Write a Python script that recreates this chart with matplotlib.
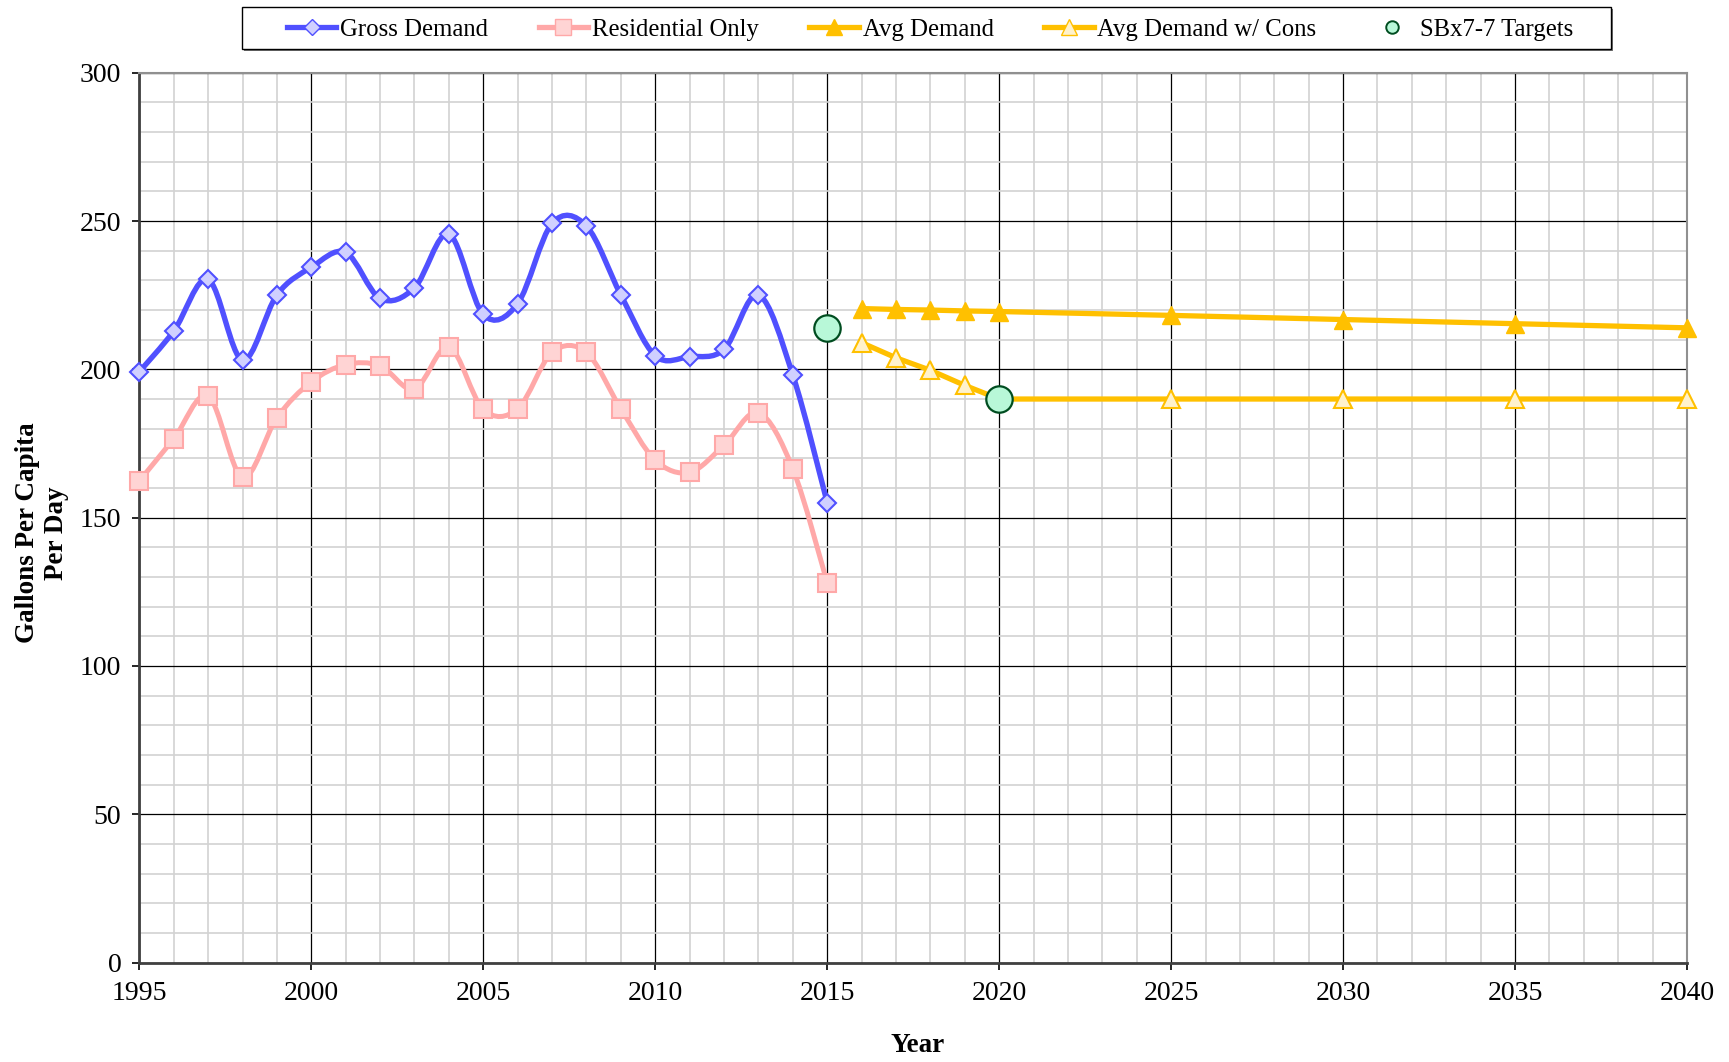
import matplotlib
matplotlib.use('Agg')
import matplotlib.pyplot as plt
from matplotlib.path import Path
from matplotlib.patches import PathPatch, Rectangle
from matplotlib.lines import Line2D
from matplotlib.ticker import MultipleLocator

hist_years = list(range(1995, 2016))
gross = [199.2, 212.9, 230.3, 203.1, 225.1, 234.4, 239.4, 223.9, 227.5, 245.6,
         218.5, 222.2, 249.2, 248.3, 225.1, 204.6, 204.3, 206.7, 225.1, 198.1, 155.1]
residential = [162.4, 176.6, 191.0, 163.6, 183.7, 195.8, 201.6, 201.2, 193.3, 207.6,
               186.5, 186.7, 205.7, 205.7, 186.7, 169.4, 165.3, 174.4, 185.4, 166.5, 128.1]

proj_years = [2016, 2017, 2018, 2019, 2020, 2025, 2030, 2035, 2040]
avg_demand = [220.5, 220.2, 220.0, 219.7, 219.5, 218.2, 216.8, 215.4, 214.0]
avg_cons = [209.0, 203.9, 199.7, 194.6, 190.0, 190.0, 190.0, 190.0, 190.0]

target_years = [2015, 2020]
targets = [214.0, 190.0]

plt.rcParams['font.family'] = ['Liberation Serif', 'DejaVu Serif']

BLUE = '#5050FF'
PINK = '#FFA8A8'
GOLD = '#FFC000'


def smooth_path(x, y):
    # excel style smoothed line (catmull-rom as bezier segments)
    verts = [(x[0], y[0])]
    codes = [Path.MOVETO]
    n = len(x)
    for i in range(n - 1):
        x0, y0 = (x[i - 1], y[i - 1]) if i > 0 else (x[i], y[i])
        x3, y3 = (x[i + 2], y[i + 2]) if i + 2 < n else (x[i + 1], y[i + 1])
        c1 = (x[i] + (x[i + 1] - x0) / 6, y[i] + (y[i + 1] - y0) / 6)
        c2 = (x[i + 1] - (x3 - x[i]) / 6, y[i + 1] - (y3 - y[i]) / 6)
        verts += [c1, c2, (x[i + 1], y[i + 1])]
        codes += [Path.CURVE4] * 3
    return Path(verts, codes)


fig = plt.figure(figsize=(17.29, 10.62), dpi=100)
ax = fig.add_axes([0.0806, 0.0936, 0.8951, 0.8379])

ax.add_patch(PathPatch(smooth_path(hist_years, residential), fill=False,
                       edgecolor=PINK, lw=3.6, zorder=3, capstyle='round', joinstyle='round'))
ax.plot(hist_years, residential, ls='none', marker='s', ms=13, mfc='#FFD4D4',
        mec=PINK, mew=1.5, zorder=4, clip_on=False)

ax.add_patch(PathPatch(smooth_path(hist_years, gross), fill=False,
                       edgecolor=BLUE, lw=3.9, zorder=5, capstyle='round', joinstyle='round'))
ax.plot(hist_years, gross, ls='none', marker='D', ms=9.3, mfc='#D0D0FF',
        mec=BLUE, mew=1.5, zorder=6, clip_on=False)

ax.plot(proj_years, avg_demand, color=GOLD, lw=3.8, marker='^', ms=13,
        mfc=GOLD, mec=GOLD, zorder=5, clip_on=False)
ax.plot(proj_years, avg_cons, color=GOLD, lw=3.8, marker='^', ms=13,
        mfc='#FFF2CC', mec=GOLD, mew=1.5, zorder=5, clip_on=False)

ax.plot(target_years, targets, ls='none', marker='o', ms=19, mfc='#B8F8D8',
        mec='#004D20', mew=1.6, zorder=7, clip_on=False)

ax.set_xlim(1995, 2040)
ax.set_ylim(0, 300)
ax.xaxis.set_major_locator(MultipleLocator(5))
ax.xaxis.set_minor_locator(MultipleLocator(1))
ax.yaxis.set_major_locator(MultipleLocator(50))
ax.yaxis.set_minor_locator(MultipleLocator(10))
ax.grid(which='minor', color='#D2D2D2', lw=1.2, zorder=0)
ax.grid(which='major', color='black', lw=0.9, zorder=1)
ax.set_axisbelow(True)
ax.tick_params(which='major', direction='out', length=5, width=1.2,
               labelsize=20, pad=8)
ax.tick_params(which='minor', length=0)
for s in ['left', 'bottom']:
    ax.spines[s].set_color('#404040')
    ax.spines[s].set_linewidth(2)
for s in ['top', 'right']:
    ax.spines[s].set_color('#909090')
    ax.spines[s].set_linewidth(1.5)

fig.text(0.0245, 0.498, 'Gallons Per Capita\nPer Day', rotation=90, ha='center',
         va='center', multialignment='center', fontsize=19.5, fontweight='bold')
fig.text(0.531, 0.016, 'Year', ha='center', va='center', fontsize=19.5,
         fontweight='bold')

# legend frame drawn by hand (wide side padding)
fig.patches.append(Rectangle((243.5 / 1729, 1 - 50.5 / 1062), 1369.5 / 1729, 42 / 1062,
                             transform=fig.transFigure, facecolor='0.45',
                             edgecolor='none', zorder=0))
fig.patches.append(Rectangle((241.5 / 1729, 1 - 48.5 / 1062), 1369.5 / 1729, 42 / 1062,
                             transform=fig.transFigure, facecolor='white',
                             edgecolor='black', lw=1.0, zorder=1))

handles = [
    Line2D([], [], color=BLUE, lw=3.8, marker='D', ms=8, mfc='#D0D0FF', mec=BLUE),
    Line2D([], [], color=PINK, lw=3.8, marker='s', ms=11, mfc='#FFD4D4', mec=PINK),
    Line2D([], [], color=GOLD, lw=3.8, marker='^', ms=11, mfc=GOLD, mec=GOLD),
    Line2D([], [], color=GOLD, lw=3.8, marker='^', ms=11, mfc='#FFF2CC', mec=GOLD),
    Line2D([], [], ls='none', marker='o', ms=9, mfc='#B8F8D8', mec='#004D20', mew=1.4),
]
labels = ['Gross Demand', 'Residential Only', 'Avg Demand', 'Avg Demand w/ Cons',
          'SBx7-7 Targets']
leg = fig.legend(handles, labels, loc='center', bbox_to_anchor=(0.538, 0.972),
                 ncol=5, fontsize=17.8, frameon=False, handlelength=2.0,
                 handletextpad=0.15, columnspacing=2.05, borderpad=0.35)

fig.savefig('out.png', dpi=100)
